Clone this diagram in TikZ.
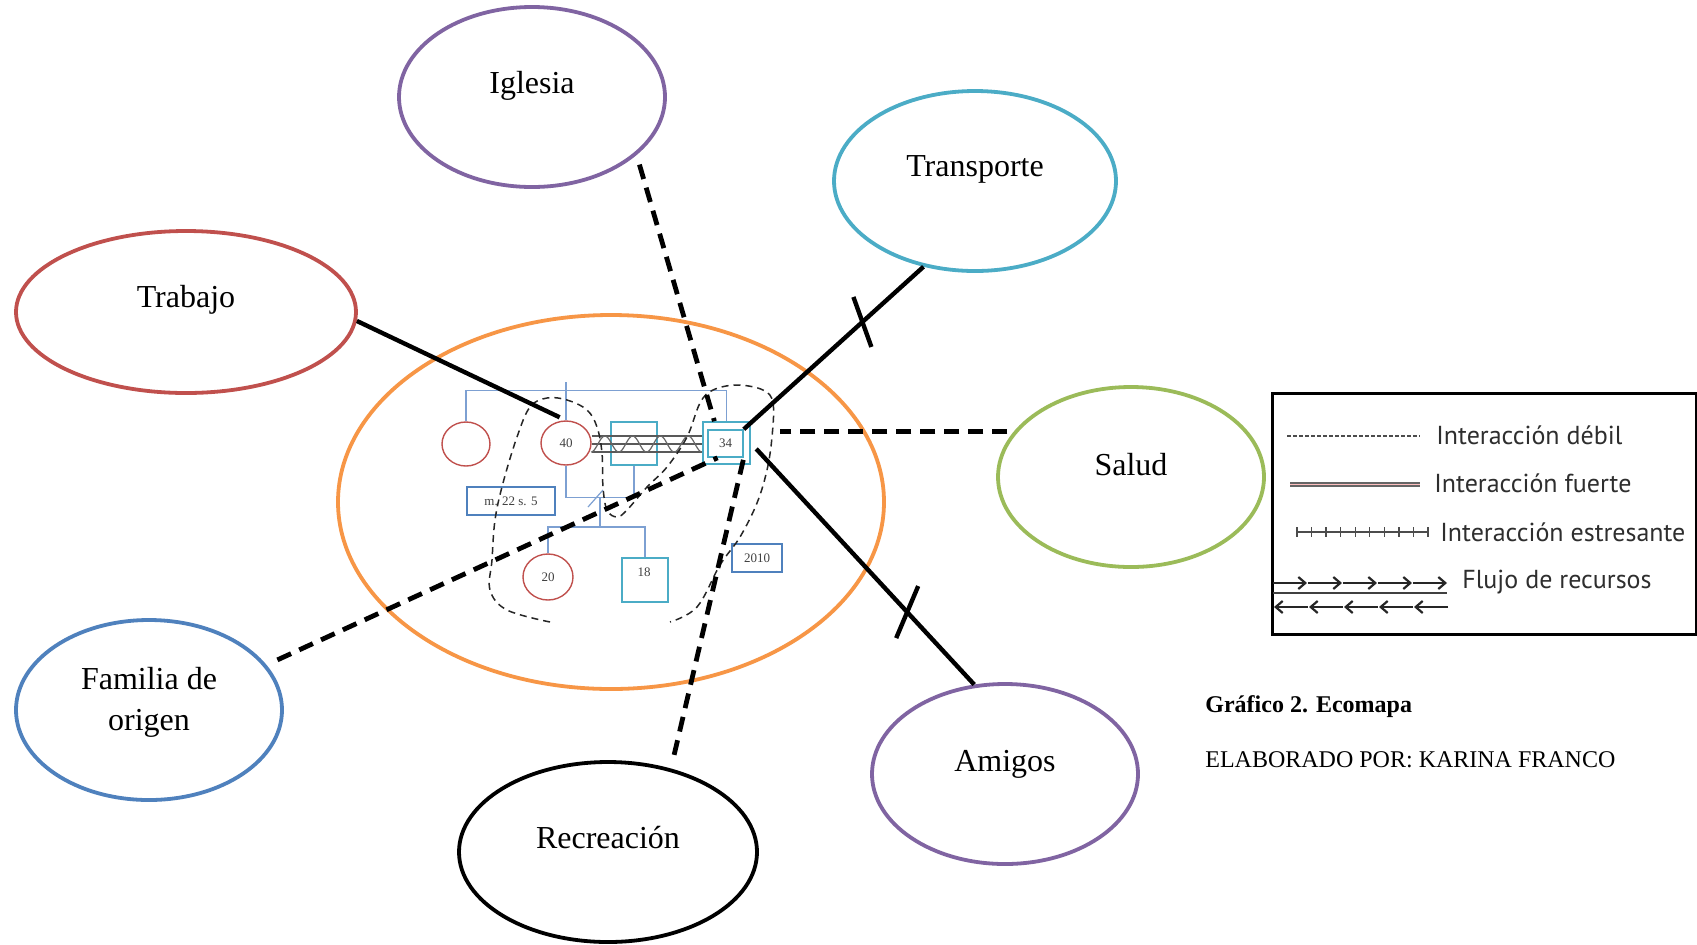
\documentclass[tikz,border=0pt]{standalone}
\usepackage{fontspec}
\setmainfont{Liberation Serif}
\newfontfamily\legendfont{PT Sans}
\usetikzlibrary{shapes.geometric,calc,arrows.meta}
\definecolor{cpurple}{HTML}{8064A2}
\definecolor{cteal}{HTML}{4BACC6}
\definecolor{cred}{HTML}{C0504D}
\definecolor{cgreen}{HTML}{9BBB59}
\definecolor{cblue}{HTML}{4F81BD}
\definecolor{corange}{HTML}{F79646}
\definecolor{genblue}{RGB}{125,160,210}
\definecolor{legtext}{HTML}{2E2E2E}
\begin{document}
\begin{tikzpicture}[x=0.5pt,y=-0.5pt,
  eco/.style={ellipse, draw, line width=1.9pt, inner sep=0pt},
  ecotxt/.style={font=\fontsize{16}{20.5}\selectfont, align=center, inner sep=0pt},
  conn/.style={line width=2.2pt, black},
  dconn/.style={conn, line width=2.4pt, dash pattern=on 7.5pt off 4.5pt},
  gline/.style={draw=genblue, line width=0.6pt},
  fem/.style={ellipse, draw=cred, line width=0.7pt, inner sep=0pt},
  male/.style={rectangle, draw=cteal, line width=0.8pt, inner sep=0pt},
  gtxt/.style={font=\fontsize{6.5}{8}\selectfont, text=black!75},
  infobox/.style={rectangle, draw=cblue, line width=0.8pt, inner sep=0pt},
  relline/.style={draw=black!65, line width=0.6pt},
  famloop/.style={draw=black!85, line width=0.75pt, dash pattern=on 3.5pt off 2.5pt},
  legline/.style={draw=black!70, line width=0.7pt},
  legtxt/.style={font=\legendfont\fontsize{13}{16}\selectfont, text=legtext, inner sep=0pt, anchor=west},
  captxt/.style={font=\fontsize{12}{14}\selectfont, inner sep=0pt, anchor=west}
]
\fill[white] (0,0) rectangle (1697,944);
\useasboundingbox (0,0) rectangle (1697,944);

% outer system ellipses
\node[eco, draw=cpurple, minimum width=133pt, minimum height=90pt] (igl) at (532,97) {};
\node[ecotxt] (tigl) at (532,86) {Iglesia};
\node[eco, draw=cteal, minimum width=141pt, minimum height=90pt] (tra) at (975,181) {};
\node[ecotxt] (ttra) at (975,169.5) {Transporte};
\node[eco, draw=cred, minimum width=170pt, minimum height=81pt] (trab) at (186,312) {};
\node[ecotxt] (ttrab) at (186,299.5) {Trabajo};
\node[eco, draw=cgreen, minimum width=133pt, minimum height=90pt] (sal) at (1131,477) {};
\node[ecotxt] (tsal) at (1131,464.5) {Salud};
\node[eco, draw=cblue, minimum width=133pt, minimum height=90pt] (fam) at (149,710) {};
\node[ecotxt] (tfam) at (149,702.5) {Familia de\\origen};
\node[eco, draw=black, minimum width=149pt, minimum height=90pt] (rec) at (608,852) {};
\node[ecotxt] (trec) at (608,838) {Recreación};
\node[eco, draw=cpurple, minimum width=133pt, minimum height=90pt] (ami) at (1005,774) {};
\node[ecotxt] (tami) at (1005,764) {Amigos};
\node[eco, draw=corange, minimum width=273pt, minimum height=187pt] (hogar) at (611,502) {};

% genogram
\node[fem, minimum width=24pt, minimum height=22pt] (cE) at (466,444) {};
\node[fem, minimum width=25pt, minimum height=22pt, gtxt] (c40) at (566,443) {40};
\node[male, minimum width=23pt, minimum height=21.5pt] (sM) at (634,443.5) {};
\node[male, minimum width=23.5pt, minimum height=21pt] (s34) at (726.5,443) {};
\node[male, minimum width=17.5pt, minimum height=13.5pt, gtxt] (i34) at (725.5,443.5) {34};
\node[fem, minimum width=25pt, minimum height=23pt, gtxt] (c20) at (548,577) {20};
\node[male, minimum width=23pt, minimum height=22pt] (s18) at (645,580) {};
\node[gtxt, inner sep=0pt] (t18) at (644,572) {18};
\node[infobox, minimum width=44pt, minimum height=14pt, gtxt] (bm) at (511,501) {m. 22 s. 5};
\node[infobox, minimum width=25pt, minimum height=14pt, gtxt] (b2010) at (757,558) {2010};

\draw[gline] (cE.north) -- ++(0,-31) -| (s34.north);
\draw[gline] (c40.north) -- ++(0,-38);
\draw[gline] (c40.south) -- ++(0,32) -| (sM.south);
\coordinate (mar) at (600,497);
\draw[gline] (mar) -- ++(0,30) coordinate (sib);
\draw[gline] (c20.north) |- (sib) -| (s18.north);
\draw[gline] ($(mar)+(-12,10)$) -- ($(mar)+(3,-7)$);

\foreach \yy in {436,444,452}
  \draw[relline] (c40.east |- 0,\yy) -- (s34.west |- 0,\yy);
\draw[draw=black!60, line width=0.6pt] plot[domain=0:111, samples=120, smooth] ({\x+591}, {444+8*cos(12.973*\x)});

\draw[famloop] plot[smooth, tension=0.6] coordinates {
  (550,622) (507,610) (490,590) (492,560) (495,520) (503,483) (517,437)
  (530,407) (547,398) (567,400) (587,410) (597,427) (602,453) (603,487)
  (607,510) (617,517) (627,510) (647,487) (667,467) (687,437) (700,403)
  (713,390) (737,385) (763,390) (773,403) (772,437) (767,470) (757,503)
  (740,537) (720,565) (697,607) (670,622)};

% connectors
\draw[conn, shorten >=3.5pt] (trab.-3) -- (c40.north);
\draw[dconn, shorten <=5pt] (igl.-29) -- (s34.119);
\draw[conn] (tra.239) -- coordinate[pos=0.34] (tkT) (i34.north east);
\draw[conn] (tkT) ++(-9,-25) -- ++(18,50);
\draw[dconn, line width=2.6pt, shorten <=3pt, shorten >=14.5pt] (sal.159) -- (sal.159 -| s34.east);
\draw[conn, shorten <=4pt] (s34.east) -- coordinate[pos=0.7] (tkA) (ami.109);
\draw[conn] (tkA) ++(11,-26) -- ++(-22,52);
\draw[dconn, shorten <=6pt] (fam.21.5) -- (i34.-119);
\draw[dconn, shorten <=7pt] (rec.53) -- (i34.south east);

% legend
\node[draw=black, line width=1.3pt, minimum width=212pt, minimum height=120.5pt, inner sep=0pt, anchor=north west] (leg) at (1271,392) {};
\draw[legline, line width=0.6pt, dash pattern=on 2pt off 1pt] (1287,436) -- (1420,436);
\node[legtxt] (l1) at (1436,435) {Interacción débil};
\draw[draw=black!60, line width=0.8pt, double=red!25, double distance=0.9pt] (1290,484.5) -- (1420,484.5);
\node[legtxt] (l2) at (1434,483) {Interacción fuerte};
\draw[legline] (1297,532) -- (1428,532);
\foreach \i in {0,...,9} \draw[legline] (1297+\i*14.55,527) -- ++(0,10);
\node[legtxt] (l3) at (1440,532) {Interacción estresante};
\foreach \i in {0,...,4}
  \draw[legline, line width=1.1pt, black!85, -{Straight Barb[length=3.5pt,width=6pt]}] (1273+\i*35,583) -- ++(34,0);
\draw[draw=black!75, line width=0.8pt] (1273,593) -- (1447,593);
\foreach \i in {0,...,4}
  \draw[legline, line width=1.1pt, black!85, -{Straight Barb[length=3.5pt,width=6pt]}] (1448-\i*35,607) -- ++(-34,0);
\node[legtxt] (l4) at (1462,582) {Flujo de recursos};

% caption
\node[captxt, font=\bfseries\fontsize{12}{14}\selectfont] (cap) at (1205,707) {Gráfico 2. Ecomapa};
\node[captxt] (auth) at (1205,760) {ELABORADO POR: KARINA FRANCO};
\end{tikzpicture}
\end{document}
